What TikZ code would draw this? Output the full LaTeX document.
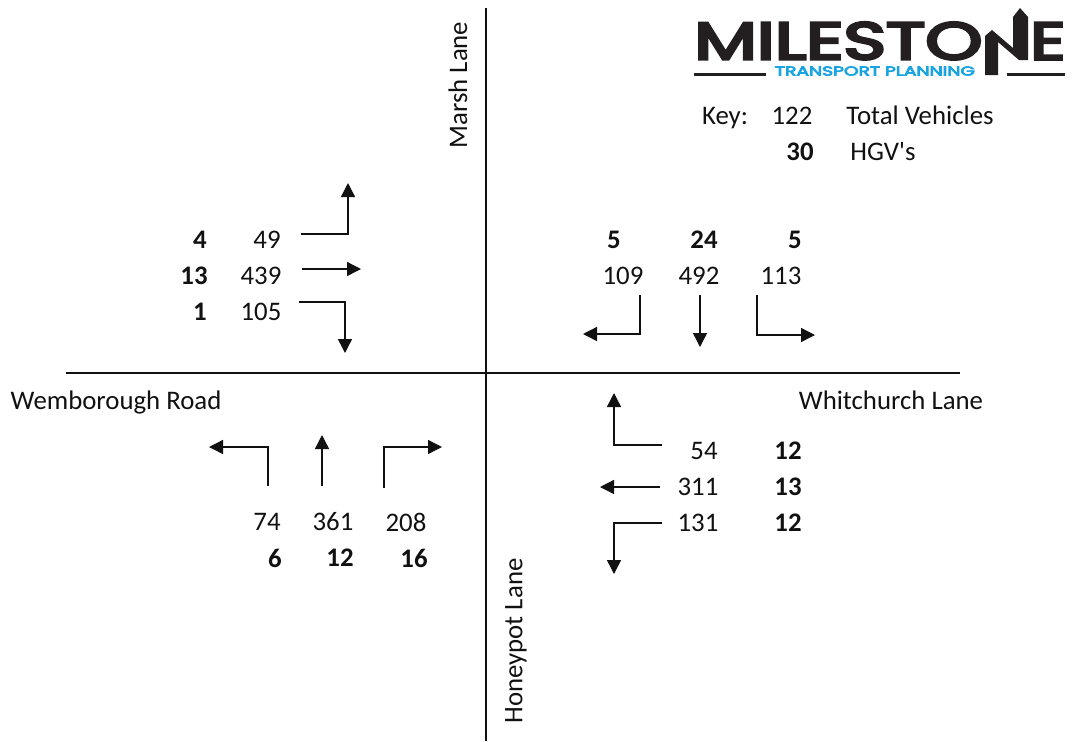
\documentclass[tikz,border=0pt]{standalone}
\usepackage{fontspec}
\usepackage{graphicx}
\usetikzlibrary{arrows.meta}
\setmainfont{Carlito}
\newfontfamily\logofont[FakeBold=5]{Poppins}
\definecolor{blackmain}{HTML}{111111}
\definecolor{logoblack}{HTML}{231F20}
\definecolor{logoblue}{HTML}{1BA5E0}
\tikzset{
  every node/.append style={font=\fontsize{13.4}{16}\selectfont,text=blackmain,inner sep=0pt},
  road/.style={blackmain,line width=.75pt},
  turn/.style={blackmain,line width=.7pt,-{Triangle[length=7pt,width=7pt]}},
  hgv/.style={font=\fontsize{13.4}{16}\selectfont\bfseries},
}
\begin{document}
\begin{tikzpicture}[x=.5pt,y=-.5pt]
  \useasboundingbox (0,0) rectangle (1072,741);
  % roads
  \coordinate (north) at (486,8);
  \coordinate (south) at (486,741);
  \coordinate (west) at (66,373);
  \coordinate (east) at (960,373);
  \draw[road] (north)--(south);
  \draw[road] (west)--(east);
  % road names
  \node[rotate=90] (marsh) at (458,85) {Marsh Lane};
  \node[rotate=90] (honeypot) at (516,641) {Honeypot Lane};
  \node[anchor=base] (wemborough) at (116,409) {Wemborough Road};
  \node[anchor=base] (whitchurch) at (891,409) {Whitchurch Lane};
  % total vehicles
  \foreach \name/\x/\y/\val in {a/267/240/49,b/261/276/439,c/261/312/105,
    d/623/276/109,e/699/276/492,f/781/276/113,
    g/267/522/74,h/333/522/361,i/406/522/208,
    j/704/451/54,k/698/487/311,l/698/523/131} {
    \node (\name) at (\x,\y) {\val};
  }
  % hgv
  \foreach \name/\x/\y/\val in {ha/200/240/4,hb/194/276/13,hc/200/312/1,
    hd/614/240/5,he/704/240/24,hf/795/240/5,
    hg/275/558/6,hh/340/558/12,hi/414/558/16,
    hj/788/451/12,hk/788/487/13,hl/788/523/12} {
    \node[hgv] (\name) at (\x,\y) {\val};
  }
  % straight movements
  \foreach \s/\e/\xa/\ya/\xb/\yb in {sa/ea/302/269/361/269,sb/eb/700/295/700/347,
    sc/ec/322/486/322/435,sd/ed/660/487/600/487} {
    \coordinate (\s) at (\xa,\ya);
    \coordinate (\e) at (\xb,\yb);
    \draw[turn] (\s)--(\e);
  }
  % turning movements, first leg horizontal
  \foreach \s/\e/\xa/\ya/\xb/\yb in {ta/ua/301/234/348/183,tb/ub/299/302/345/353,
    tc/uc/662/445/614/393,td/ud/662/523/614/574} {
    \coordinate (\s) at (\xa,\ya);
    \coordinate (\e) at (\xb,\yb);
    \draw[turn] (\s)-|(\e);
  }
  % turning movements, first leg vertical
  \foreach \s/\e/\xa/\ya/\xb/\yb in {te/ue/640/295/583/334,tf/uf/757/295/815/335,
    tg/ug/268/486/209/447,th/uh/384/488/442/447} {
    \coordinate (\s) at (\xa,\ya);
    \coordinate (\e) at (\xb,\yb);
    \draw[turn] (\s)|-(\e);
  }
  % key
  \node[anchor=base] (key) at (725,124) {Key:};
  \node[anchor=base] (keyval) at (792,124) {122};
  \node[anchor=base] (total) at (920,124) {Total Vehicles};
  \node[hgv,anchor=base] (keyhgv) at (800,160) {30};
  \node[anchor=base] (hgvs) at (883,160) {HGV\textquotesingle s};
  % logo
  \node[anchor=south west,text=logoblack] (milesto) at (694,60)
    {\resizebox{144pt}{18.5pt}{\logofont MILESTO}};
  \node[anchor=south west,text=logoblack] (logoe) at (1030,60)
    {\resizebox{17.5pt}{18.5pt}{\logofont E}};
  \fill[logoblack] (985,75)--(985,36)--(992,30)--(1013,48)--(1013,17)--(1020,8)
    --(1028,17)--(1028,60)--(1019,60)--(998,42)--(998,75)--cycle;
  \node[text=logoblue] (planning) at (875,71)
    {\resizebox{100pt}{4.6pt}{\logofont TRANSPORT PLANNING}};
  \fill[logoblack] (694,72.5) rectangle (766,75.5);
  \fill[logoblack] (1007,72.5) rectangle (1065,75.5);
\end{tikzpicture}
\end{document}
